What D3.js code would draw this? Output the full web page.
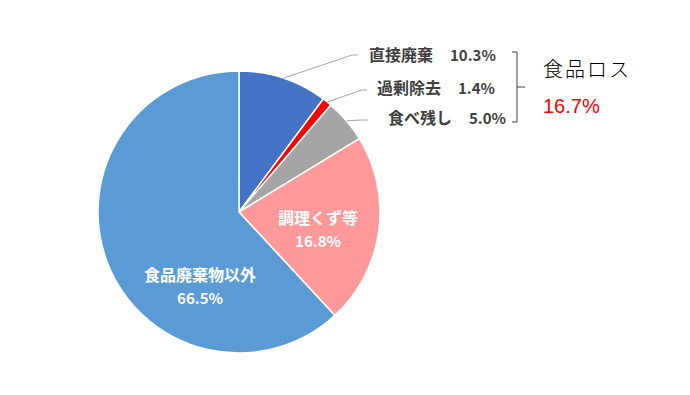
<!DOCTYPE html>
<html>
<head>
<meta charset="utf-8">
<script src="https://cdn.jsdelivr.net/npm/d3@7"></script>
<style>
  body { margin: 0; background: #fff; }
  svg { display: block; font-family: "Noto Sans CJK JP", "Noto Sans", sans-serif; }
</style>
</head>
<body>
<svg width="690" height="395"></svg>
<script>
// slices, clockwise from 12 o'clock
var categories = ["直接廃棄", "過剰除去", "食べ残し", "調理くず等", "食品廃棄物以外"];
// share of the circle each slice takes in the drawing
var values = [10.2, 1.1, 5.0, 21.8, 61.9];
// percentages as printed on the chart
var percentLabels = ["10.3%", "1.4%", "5.0%", "16.8%", "66.5%"];
var colors = ["#4472C4", "#FF0000", "#A5A5A5", "#FF9999", "#5B9BD5"];
var lossTitle = "食品ロス";
var lossTotal = "16.7%";

var svg = d3.select("svg");
var cx = 239, cy = 212, radius = 141;

var data = categories.map(function(c, i) {
  return { name: c, value: values[i], label: percentLabels[i], color: colors[i] };
});

var pie = d3.pie().sort(null).value(function(d) { return d.value; });
var arc = d3.arc().innerRadius(0).outerRadius(radius);
var arcs = pie(data);

var g = svg.append("g").attr("transform", "translate(" + cx + "," + cy + ")");

g.selectAll("path.slice")
  .data(arcs)
  .enter().append("path")
  .attr("class", "slice")
  .attr("d", arc)
  .attr("fill", function(d) { return d.data.color; })
  .attr("stroke", "#fff")
  .attr("stroke-width", 1.5)
  .attr("stroke-linejoin", "round");

// outside labels for the three small slices (absolute page coords)
var outside = [
  { elbow: [352, 55], end: [358, 55], tx: 369, ty: 55 },
  { elbow: [362, 90], end: [367, 90], tx: 377, ty: 88 },
  { elbow: [362, 120], end: [368, 120], tx: 388, ty: 118 }
];

outside.forEach(function(o, i) {
  var a = arcs[i];
  var mid = (a.startAngle + a.endAngle) / 2;
  var p0 = [cx + radius * Math.sin(mid), cy - radius * Math.cos(mid)];
  svg.append("polyline")
    .attr("points", [p0, o.elbow, o.end].map(function(p) { return p.join(","); }).join(" "))
    .attr("fill", "none")
    .attr("stroke", "#A6A6A6")
    .attr("stroke-width", 1);

  var t = svg.append("text")
    .attr("x", o.tx)
    .attr("y", o.ty)
    .attr("dy", "0.35em")
    .attr("fill", "#404040")
    .attr("font-weight", "bold");
  t.append("tspan").attr("font-size", 16).text(a.data.name);
  t.append("tspan").attr("dx", 17).attr("font-size", 15).text(a.data.label);
});

// inside labels
var inside = [
  { i: 3, x: 318, y: 218 },
  { i: 4, x: 200, y: 275 }
];
inside.forEach(function(o) {
  var d = arcs[o.i].data;
  svg.append("text")
    .attr("x", o.x).attr("y", o.y).attr("dy", "0.35em")
    .attr("text-anchor", "middle")
    .attr("fill", "#fff").attr("font-weight", "bold").attr("font-size", 16)
    .text(d.name);
  svg.append("text")
    .attr("x", o.x).attr("y", o.y + 24).attr("dy", "0.35em")
    .attr("text-anchor", "middle")
    .attr("fill", "#fff").attr("font-weight", "bold").attr("font-size", 15)
    .text(d.label);
});

// bracket grouping the food-loss slices
svg.append("path")
  .attr("d", "M512,52H517V122H512M517,87H525")
  .attr("fill", "none")
  .attr("stroke", "#404040")
  .attr("stroke-width", 1);

svg.append("text")
  .attr("x", 543).attr("y", 70).attr("dy", "0.35em")
  .attr("font-size", 20).attr("fill", "#000")
  .attr("font-weight", 300)
  .attr("letter-spacing", 2)
  .text(lossTitle);

svg.append("text")
  .attr("x", 543).attr("y", 106).attr("dy", "0.35em")
  .attr("font-family", "Liberation Sans, sans-serif")
  .attr("font-size", 20).attr("fill", "#FF0000")
  .text(lossTotal);
</script>
</body>
</html>
